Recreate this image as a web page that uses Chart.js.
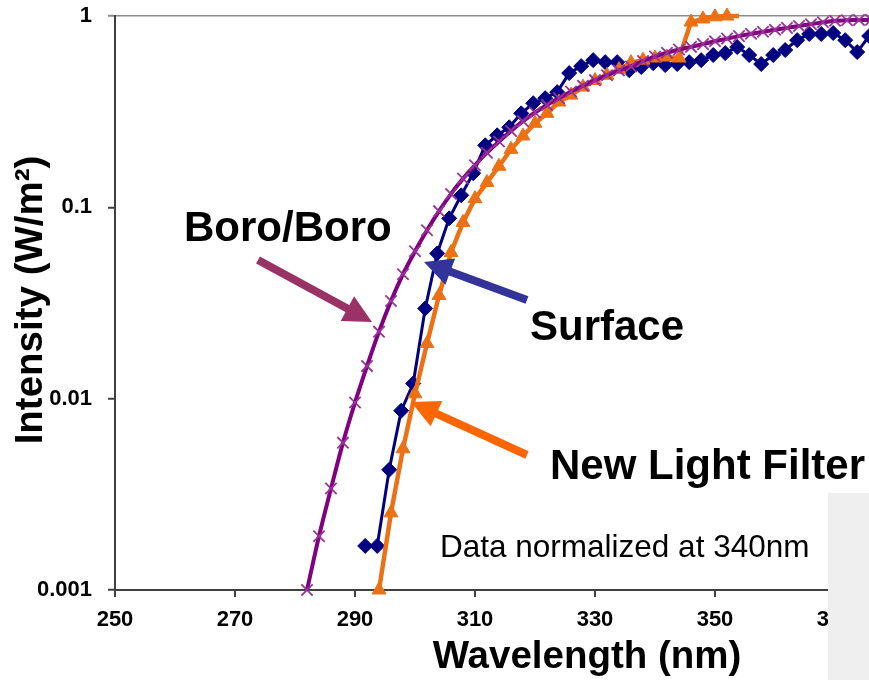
<!DOCTYPE html>
<html><head><meta charset="utf-8">
<script src="https://cdn.jsdelivr.net/npm/chart.js@4"></script>
<style>
html,body{margin:0;padding:0;overflow:hidden;background:#fff;width:869px;height:680px;}
#wrap{position:absolute;left:0;top:0;width:1030px;height:680px;}
</style></head><body>
<div id="wrap"><canvas id="c" width="1030" height="680"></canvas></div>
<script>
// ---- data ----
const boroWavelengths = [282,284,286,288,290,292,294,296,298,300,302,304,306,308,310,312,314,316,318,320,322,324,326,328,330,332,334,336,338,340,342,344,346,348,350,352,354,356,358,360,362,364,366,368,370,372,374,376];
const boroValues = [0.00100,0.00191,0.00339,0.00589,0.00955,0.0148,0.0224,0.0324,0.0447,0.0589,0.0759,0.0955,0.1175,0.1413,0.166,0.193,0.221,0.251,0.282,0.313,0.343,0.372,0.403,0.432,0.462,0.490,0.519,0.545,0.582,0.614,0.643,0.668,0.690,0.713,0.738,0.762,0.785,0.807,0.828,0.847,0.867,0.887,0.906,0.927,0.944,0.951,0.953,0.955];

const surfaceWavelengths = [291.7,293.7,295.7,297.7,299.7,301.7,303.7,305.7,307.7,309.7,311.7,313.7,315.7,317.7,319.7,321.7,323.7,325.7,327.7,329.7,331.7,333.7,335.7,337.7,339.7,341.7,343.7,345.7,347.7,349.7,351.7,353.7,355.7,357.7,359.7,361.7,363.7,365.7,367.7,369.7,371.7,373.7,375.7];
const surfaceValues = [0.0017,0.0017,0.00425,0.00865,0.0120,0.0296,0.0574,0.0876,0.1156,0.1507,0.211,0.238,0.262,0.310,0.350,0.372,0.400,0.503,0.547,0.588,0.574,0.574,0.521,0.541,0.567,0.554,0.561,0.574,0.588,0.625,0.640,0.688,0.625,0.561,0.625,0.664,0.748,0.805,0.805,0.815,0.748,0.648,0.786];

const filterWavelengths = [294,296,298,300,302,304,306,308,310,312,314,316,318,320,322,324,326,328,330,332,334,336,338,340,342,344,346,348,350,352,354];
const filterValues = [0.001,0.00253,0.00547,0.0106,0.0194,0.0346,0.0581,0.0834,0.111,0.135,0.164,0.201,0.236,0.275,0.310,0.355,0.386,0.425,0.460,0.490,0.525,0.570,0.588,0.603,0.610,0.603,0.930,0.965,0.990,1.000,1.000];

const xTickValues = [250,270,290,310,330,350,370,390];
const yTickValues = [0.001,0.01,0.1,1];
const yTickLabels = ['0.001','0.01','0.1','1'];

const FONT = '"Liberation Sans", Arial, Helvetica, sans-serif';
Chart.defaults.font.family = FONT;

function pts(xs, ys){ return xs.map((x,i)=>({x:x, y:ys[i]})); }

function arrow(ctx, x1, y1, x2, y2, color){
  const a = Math.atan2(y2-y1, x2-x1);
  const hl = 28, hw = 14;
  const bx = x2 - hl*Math.cos(a), by = y2 - hl*Math.sin(a);
  ctx.strokeStyle = color; ctx.lineWidth = 8; ctx.lineCap = 'butt';
  ctx.beginPath(); ctx.moveTo(x1,y1); ctx.lineTo(bx+2*Math.cos(a),by+2*Math.sin(a)); ctx.stroke();
  ctx.fillStyle = color;
  ctx.beginPath();
  ctx.moveTo(x2,y2);
  ctx.lineTo(bx + hw*Math.sin(a), by - hw*Math.cos(a));
  ctx.lineTo(bx - hw*Math.sin(a), by + hw*Math.cos(a));
  ctx.closePath(); ctx.fill();
}

const overlay = {
  id: 'overlay',
  afterDraw(chart){
    const ctx = chart.ctx;
    ctx.save();
    ctx.fillStyle = '#efefef';
    ctx.fillRect(828, 493, 260, 200);

    arrow(ctx, 258, 260, 372, 322, '#993366');
    arrow(ctx, 527, 300, 424, 262, '#333399');
    arrow(ctx, 527, 455, 411, 402, '#FF6600');

    ctx.fillStyle = '#000';
    ctx.textBaseline = 'alphabetic';
    ctx.textAlign = 'left';
    ctx.font = 'bold 42px ' + FONT;
    ctx.fillText('Boro/Boro', 184, 241);
    ctx.fillText('Surface', 530, 340);
    ctx.fillText('New Light Filter', 550, 479);
    ctx.font = '31.5px ' + FONT;
    ctx.fillText('Data normalized at 340nm', 440, 557);

    ctx.font = 'bold 38.5px ' + FONT;
    ctx.textAlign = 'center';
    ctx.fillText('Wavelength (nm)', 587, 668);
    ctx.translate(42, 300);
    ctx.rotate(-Math.PI/2);
    ctx.fillText('Intensity (W/m\u00B2)', 0, 0);
    ctx.restore();
  }
};

new Chart(document.getElementById('c'), {
  type: 'line',
  data: {
    datasets: [
      {
        label: 'Boro/Boro',
        data: pts(boroWavelengths, boroValues),
        borderColor: '#800080', borderWidth: 4,
        cubicInterpolationMode: 'monotone', tension: 0.4,
        pointStyle: 'crossRot', pointRadius: 8,
        pointBorderColor: '#993399', pointBackgroundColor: '#993399', pointBorderWidth: 1.8,
        clip: false
      },
      {
        label: 'New Light Filter',
        data: pts(filterWavelengths, filterValues),
        borderColor: '#EC7014', borderWidth: 4.5, tension: 0,
        pointStyle: 'triangle',
        pointRadius: (c) => c.dataIndex === filterValues.length - 1 ? 0 : 8,
        pointBorderColor: '#EC7014', pointBackgroundColor: '#EC7014', pointBorderWidth: 1,
        clip: false
      },
      {
        label: 'Surface',
        data: pts(surfaceWavelengths, surfaceValues),
        borderColor: '#000080', borderWidth: 3, tension: 0,
        pointStyle: 'rectRot', pointRadius: 7.5,
        pointBorderColor: '#000080', pointBackgroundColor: '#000080', pointBorderWidth: 1,
        clip: false
      }
    ]
  },
  options: {
    responsive: false,
    animation: false,
    devicePixelRatio: 1,
    layout: { padding: { top: 16, left: 0, right: 15, bottom: 0 } },
    plugins: { legend: { display: false }, tooltip: { enabled: false }, title: { display: false } },
    scales: {
      x: {
        type: 'linear', min: 250, max: 400,
        afterBuildTicks: (s) => { s.ticks = xTickValues.map(v => ({ value: v })); },
        afterFit: (s) => { s.height = 90; s.paddingLeft = 0; s.paddingRight = 0; },
        ticks: { autoSkip: false, maxRotation: 0, color: '#000', padding: 10,
                 font: { size: 22, weight: 'bold' },
                 callback: (v) => String(v) },
        grid: { drawOnChartArea: false, tickLength: 7, color: '#404040', lineWidth: 2 },
        border: { display: true, color: '#404040', width: 2 }
      },
      y: {
        type: 'logarithmic', min: 0.001, max: 1,
        afterBuildTicks: (s) => { s.ticks = yTickValues.map(v => ({ value: v, major: true })); },
        afterFit: (s) => { s.width = 115; s.paddingTop = 0; s.paddingBottom = 0; },
        ticks: { color: '#000', padding: 16, font: { size: 22, weight: 'bold' },
                 callback: (v, i) => yTickLabels[i] },
        grid: {
          drawOnChartArea: true, tickLength: 7,
          color: (c) => (c.tick && c.tick.value === 1) ? '#8c8c8c' : 'rgba(0,0,0,0)',
          tickColor: (c) => (c.tick && c.tick.value === 1) ? '#8c8c8c' : '#404040',
          lineWidth: 1.5, tickWidth: 2
        },
        border: { display: true, color: '#404040', width: 2 }
      }
    }
  },
  plugins: [overlay]
});
</script>
</body></html>
